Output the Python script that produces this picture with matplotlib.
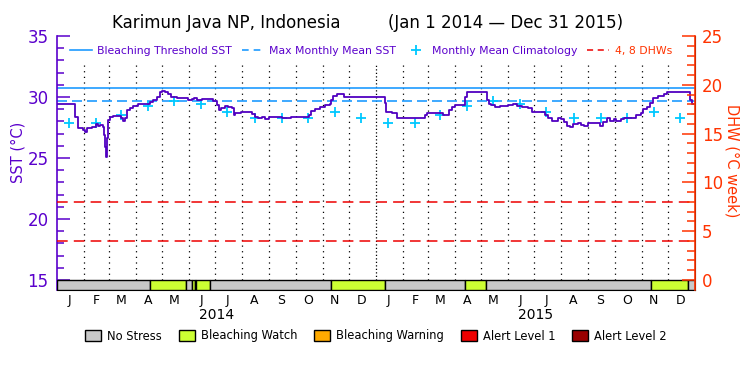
import numpy as np
import pandas as pd
import matplotlib
matplotlib.use("Agg")
import matplotlib.pyplot as plt
from matplotlib.lines import Line2D
from matplotlib.patches import Patch

# x is days since Jan 1 2014; SST changes step-wise
sst_days = [0, 21, 24, 30, 32, 34, 40, 45, 47, 49, 53, 54, 55, 56, 57, 58, 61, 64,
            73, 75, 78, 80, 84, 87, 93, 106, 110, 114, 118, 120, 124, 127, 131, 137,
            150, 154, 157, 160, 166, 179, 183, 185, 188, 192, 196, 200, 202, 204, 211,
            223, 227, 230, 234, 238, 242, 247, 257, 263, 268, 288, 291, 295, 301, 307,
            312, 313, 316, 320, 328, 375, 376, 383, 389, 421, 423, 442, 448, 452, 455,
            467, 469, 492, 494, 497, 501, 507, 516, 522, 526, 532, 539, 543, 551, 558,
            562, 566, 573, 577, 580, 583, 587, 590, 596, 600, 603, 607, 621, 625, 629,
            633, 637, 640, 645, 649, 663, 668, 671, 675, 679, 682, 688, 694, 698, 724,
            726, 730]
sst_vals = [29.40, 28.36, 27.43, 27.30, 27.16, 27.43, 27.57, 27.76, 27.65, 27.70, 27.57,
            26.90, 25.90, 25.10, 26.60, 28.10, 28.33, 28.44,
            28.25, 28.03, 28.25, 28.93, 29.12, 29.29, 29.40, 29.62, 29.75, 30.02, 30.43,
            30.52, 30.39, 30.22, 30.02, 29.89,
            29.75, 29.84, 29.95, 29.75, 29.81, 29.67, 29.34, 28.93, 29.12, 29.29, 29.21,
            29.07, 28.52, 28.66, 28.74,
            28.58, 28.39, 28.25, 28.39, 28.22, 28.33, 28.39, 28.31, 28.25, 28.39, 28.52,
            28.85, 29.02, 29.21, 29.34,
            29.40, 29.75, 30.10, 30.22, 30.02, 29.48, 28.80, 28.66, 28.25, 28.52, 28.66,
            28.52, 28.93, 29.21, 29.34,
            30.02, 30.39, 29.75, 29.40, 29.34, 29.21, 29.29, 29.34, 29.40, 29.29, 29.21,
            29.12, 28.80, 28.74, 28.52,
            28.25, 28.03, 28.25, 28.17, 27.98, 27.65, 27.57, 27.76, 27.84, 27.70, 27.62,
            27.84, 27.65, 27.92, 28.25,
            28.03, 28.17, 28.03, 28.17, 28.31, 28.52, 28.66, 29.02, 29.21, 29.48, 29.89,
            30.10, 30.22, 30.43, 29.75,
            29.40, 29.40]

clim_vals = [27.85, 27.85, 28.5, 29.25, 29.7, 29.45, 28.8, 28.3, 28.3, 28.3, 28.8, 28.3]
mmm = 29.7
threshold = 30.7
dhw_levels = [4, 8]

status_start = [0, 106, 148, 154.5, 157.5, 159, 175, 313, 375, 467, 491, 680, 722]
status_end = [106, 148, 154.5, 157.5, 159, 175, 313, 375, 467, 491, 680, 722, 730]
status_level = [0, 1, 0, 1, 0, 1, 0, 1, 0, 1, 0, 1, 0]
status_names = ["No Stress", "Bleaching Watch", "Bleaching Warning", "Alert Level 1", "Alert Level 2"]
status_colors = ["#c8c8c8", "#ccff33", "#ffaa00", "#ee0000", "#990000"]

month_letters = list("JFMAMJJASOND")
years = ["2014", "2015"]

purple = "#5a00cc"
line_purple = "#5000c0"
blue = "#1e9bff"
cyan = "#00c8ff"
orange = "#ff3300"

start = pd.Timestamp("2014-01-01")
month_starts = pd.date_range("2014-01-01", "2015-12-01", freq="MS")
ms_days = np.array((month_starts - start).days)
n_days = 730

fig = plt.figure(figsize=(7.5, 3.75), dpi=100)
W, H = 750, 375
# main axes: x 57..695 px, y 36..290 px (15 sits 10 px above the bottom)
ax = fig.add_axes([57 / W, (H - 290) / H, 638 / W, 254 / H])
lo_sst = 15 - 10 / 12.2
ax.set_xlim(0, n_days)
ax.set_ylim(lo_sst, 35)

# status bar
for s, e, lev in zip(status_start, status_end, status_level):
    ax.bar(s, 15 - lo_sst, width=e - s, bottom=lo_sst, align="edge",
           color=status_colors[lev], edgecolor="black", linewidth=1.0, zorder=3)

# month separators
ax.vlines([d for d in ms_days[1:] if d != 365], 15, 32.8, colors="black",
          linestyles=(0, (1, 3.5)), linewidth=0.9, zorder=1)
ax.vlines([365], 15, 32.8, colors="black", linestyles=(0, (1, 1.8)), linewidth=0.9, zorder=1)

ax.axhline(threshold, color=blue, lw=1.2, zorder=2)
ax.axhline(mmm, color=blue, lw=1.2, ls=(0, (6, 3)), zorder=2)

ax.plot(ms_days + 14, np.tile(clim_vals, 2), ls="none", marker="+", ms=7,
        mew=1.3, color=cyan, zorder=4)
ax.plot(sst_days, sst_vals, drawstyle="steps-post", color=line_purple, lw=1.3, zorder=5)

# axes styling
ax.spines["top"].set_visible(False)
ax.spines["left"].set_color(purple)
ax.spines["left"].set_linewidth(1.2)
ax.spines["bottom"].set_color("black")
ax.set_yticks([15, 20, 25, 30, 35])
ax.set_yticks(np.arange(15, 36), minor=True)
ax.tick_params(axis="y", which="major", direction="in", length=9.5, width=1.1,
               colors=purple, labelsize=12, pad=6)
ax.tick_params(axis="y", which="minor", direction="in", length=5, width=1.1, colors=purple)
ax.set_xticks(ms_days + 14)
ax.set_xticklabels(month_letters * 2)
ax.tick_params(axis="x", length=0, labelsize=9, pad=3)
ax.set_ylabel("SST (°C)", color=purple, fontsize=10.5)
ax.yaxis.set_label_coords(-0.050, 0.543)

for i, yr in enumerate(years):
    ax.annotate(yr, xy=(182.5 + 365 * i, 0), xycoords=("data", "axes fraction"),
                xytext=(0, -18), textcoords="offset points", ha="center", va="center",
                fontsize=10)

ax2 = ax.twinx()
ax2.set_ylim(-10 / 9.76, 25)
for lvl in dhw_levels:
    ax2.axhline(lvl, color="#ee0000", lw=1.1, ls=(0, (7, 4)), zorder=1)
for side in ["top", "left", "bottom"]:
    ax2.spines[side].set_visible(False)
ax2.spines["right"].set_color(orange)
ax2.spines["right"].set_linewidth(1.2)
ax2.set_yticks(np.arange(0, 26, 5))
ax2.set_yticks(np.arange(0, 26), minor=True)
ax2.tick_params(axis="y", which="major", direction="in", length=9.5, width=1.1,
                colors=orange, labelsize=12, pad=5)
ax2.tick_params(axis="y", which="minor", direction="in", length=5.5, width=1.1, colors=orange)
ax2.set_ylabel("DHW (°C week)", color=orange, fontsize=10.5, rotation=270)
ax2.yaxis.set_label_coords(1.069, 0.508)

# legend inside the plot
handles = [Line2D([], [], color=blue, lw=1.2),
           Line2D([], [], color=blue, lw=1.2, ls=(0, (4, 3))),
           Line2D([], [], color=cyan, ls="none", marker="+", ms=7, mew=1.3),
           Line2D([], [], color="#ee0000", lw=1.1, ls=(0, (4, 3)))]
labels = ["Bleaching Threshold SST", "Max Monthly Mean SST",
          "Monthly Mean Climatology", "4, 8 DHWs"]
leg = ax2.legend(handles, labels, ncol=4, loc="upper left", bbox_to_anchor=(0.005, 1.0),
                 frameon=False, fontsize=7.8, handlelength=2.0, handletextpad=0.5,
                 columnspacing=0.9, borderaxespad=0.5)
for t, c in zip(leg.get_texts(), [purple, purple, purple, orange]):
    t.set_color(c)

# status legend
s_handles = [Patch(facecolor=c, edgecolor="black", linewidth=1.0) for c in status_colors]
fig.legend(s_handles, status_names, ncol=5, loc="center", bbox_to_anchor=(376 / W, 1 - 336 / H),
           frameon=False, fontsize=8.3, handlelength=1.39, handleheight=1.04,
           handletextpad=0.52, columnspacing=1.45)

fig.text(112 / W, 1 - 28 / H, "Karimun Java NP, Indonesia", fontsize=12, ha="left", va="baseline")
fig.text(388 / W, 1 - 28 / H, "(Jan 1 2014 \u2014 Dec 31 2015)", fontsize=12, ha="left", va="baseline")

fig.savefig("out.png", dpi=100)
